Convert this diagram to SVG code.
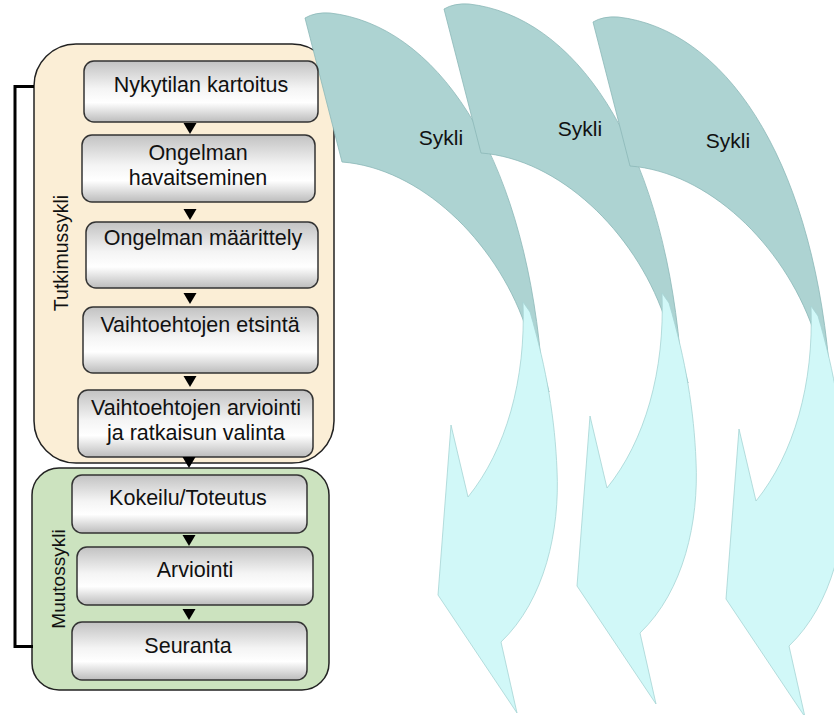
<svg xmlns="http://www.w3.org/2000/svg" width="834" height="715" viewBox="0 0 834 715">
<style>
.box{stroke:#333;stroke-width:1.5;fill:url(#gb)}
.t{font-family:"Liberation Sans",Arial,sans-serif;font-size:21.5px;fill:#111;text-anchor:middle}
.vt{font-family:"Liberation Sans",Arial,sans-serif;font-size:19.5px;fill:#111;text-anchor:middle}
.sk{font-family:"Liberation Sans",Arial,sans-serif;font-size:21px;fill:#111;text-anchor:middle}
.teal{fill:#ADD3D2;stroke:#8CB8B7;stroke-width:0.8}
.cyan{fill:#D1F8F8;stroke:#A6D4D4;stroke-width:0.8}
.tri{fill:#000}
</style>
<defs>
<linearGradient id="gb" x1="0" y1="0" x2="0" y2="1">
<stop offset="0" stop-color="#c2c2c2"/>
<stop offset="0.45" stop-color="#f4f4f4"/>
<stop offset="0.68" stop-color="#ffffff"/>
<stop offset="1" stop-color="#bcbcbc"/>
</linearGradient>
<g id="arrow">
<path class="teal" d="M305,18 Q315,12 330,13 C435,25 522,150 541,360 L549,392 L525,325 C495,240 420,168 342,162 Z"/>
<path class="cyan" d="M523,302 C526,380 506,450 468,497 L451,425 L438,595 L517,713 L501,642 C545,600 560,530 557,470 C555,420 547,370 530,312 Z"/>
</g>
<path id="tri" d="M-6.5,0 H6.5 L0,11 Z"/>
</defs>

<g id="tutkimussykli">
<rect x="34" y="44" width="300" height="419" rx="42" fill="#FBEED6" stroke="#222" stroke-width="1.5"/>
<text class="vt" transform="translate(68,253) rotate(-90)">Tutkimussykli</text>
</g>
<g id="muutossykli">
<rect x="32" y="468" width="297" height="222" rx="27" fill="#CCE3BF" stroke="#222" stroke-width="1.5"/>
<text class="vt" style="font-size:19px" transform="translate(65,579) rotate(-90)">Muutossykli</text>
</g>

<g id="sykli1">
<use href="#arrow"/>
<text class="sk" x="441" y="145">Sykli</text>
</g>
<g id="sykli2">
<use href="#arrow" transform="translate(139,-9)"/>
<text class="sk" x="580" y="136">Sykli</text>
</g>
<g id="sykli3">
<use href="#arrow" transform="translate(288,4)"/>
<text class="sk" x="728" y="148">Sykli</text>
</g>

<g id="n1"><rect class="box" x="84" y="61" width="234" height="61" rx="10"/><text class="t" x="201" y="92">Nykytilan kartoitus</text></g>
<g id="n2"><rect class="box" x="82" y="135" width="233" height="67" rx="10"/><text class="t" x="198" y="160">Ongelman</text><text class="t" x="198" y="185">havaitseminen</text></g>
<g id="n3"><rect class="box" x="86" y="222" width="232" height="66" rx="10"/><text class="t" x="203" y="245">Ongelman määrittely</text></g>
<g id="n4"><rect class="box" x="83" y="307" width="235" height="66" rx="10"/><text class="t" x="200" y="332">Vaihtoehtojen etsintä</text></g>
<g id="n5"><rect class="box" x="78" y="390" width="235" height="67" rx="10"/><text class="t" x="196" y="415">Vaihtoehtojen arviointi</text><text class="t" x="196" y="440">ja ratkaisun valinta</text></g>
<g id="n6"><rect class="box" x="72" y="475" width="235" height="58" rx="10"/><text class="t" x="188" y="505">Kokeilu/Toteutus</text></g>
<g id="n7"><rect class="box" x="77" y="547" width="236" height="58" rx="10"/><text class="t" x="195" y="577">Arviointi</text></g>
<g id="n8"><rect class="box" x="72" y="622" width="235" height="58" rx="10"/><text class="t" x="188" y="653">Seuranta</text></g>

<g id="connectors">
<use href="#tri" class="tri" x="190" y="123"/>
<use href="#tri" class="tri" x="190" y="209"/>
<use href="#tri" class="tri" x="190" y="293"/>
<use href="#tri" class="tri" x="190" y="376"/>
<use href="#tri" class="tri" x="189" y="457"/>
<use href="#tri" class="tri" x="189" y="535"/>
<use href="#tri" class="tri" x="189" y="609"/>
<path d="M34,86.5 H15 V646.5 H33" fill="none" stroke="#000" stroke-width="3"/>
</g>
</svg>
